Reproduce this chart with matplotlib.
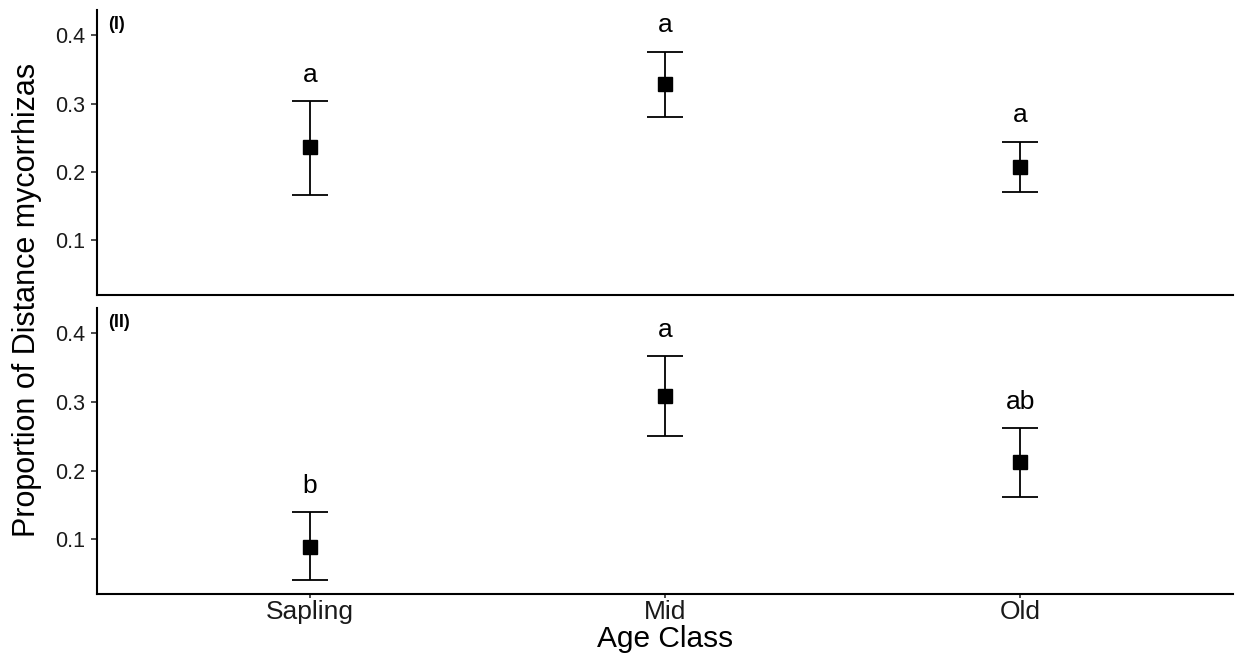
import matplotlib
matplotlib.use('Agg')
from matplotlib import pyplot as plt

plt.rcParams['font.family'] = ['Liberation Sans', 'DejaVu Sans']

age_classes = ['Sapling', 'Mid', 'Old']

# panel (I)
mean_1 = [0.236, 0.329, 0.207]
upper_1 = [0.3036, 0.376, 0.244]
lower_1 = [0.167, 0.281, 0.170]
letters_1 = ['a', 'a', 'a']

# panel (II)
mean_2 = [0.089, 0.309, 0.2125]
upper_2 = [0.139, 0.367, 0.262]
lower_2 = [0.041, 0.250, 0.162]
letters_2 = ['b', 'a', 'ab']

panel_tags = ['(I)', '(II)']

fig = plt.figure(figsize=(12.35, 6.59), dpi=100)
ax1 = fig.add_axes([0.0785, 0.5524, 0.92, 0.4324])
ax2 = fig.add_axes([0.0785, 0.0986, 0.92, 0.4340])

x = list(range(1, len(age_classes) + 1))
txt_col = '#1a1a1a'

for ax, mean, up, lo, letters, tag in [(ax1, mean_1, upper_1, lower_1, letters_1, panel_tags[0]),
                                       (ax2, mean_2, upper_2, lower_2, letters_2, panel_tags[1])]:
    yerr = [[m - l for m, l in zip(mean, lo)], [u - m for m, u in zip(mean, up)]]
    ax.errorbar(x, mean, yerr=yerr, fmt='s', color='black', ms=9.5, elinewidth=1.3,
                capsize=13, capthick=1.3)
    for xi, u, lab in zip(x, up, letters):
        ax.annotate(lab, (xi, u), xytext=(0, 14), textcoords='offset points',
                    ha='center', va='baseline', fontsize=19)
    ax.text(0.01, 0.98, tag, transform=ax.transAxes, ha='left', va='top',
            fontsize=13, fontweight='bold')
    ax.set_xlim(0.4, 3.6)
    ax.set_ylim(0.02, 0.437)
    ax.set_yticks([0.1, 0.2, 0.3, 0.4])
    ax.set_yticklabels(['0.1', '0.2', '0.3', '0.4'])
    for side in ['top', 'right']:
        ax.spines[side].set_visible(False)
    for side in ['left', 'bottom']:
        ax.spines[side].set_linewidth(1.5)
        ax.spines[side].set_color('black')
    ax.tick_params(axis='y', labelsize=15.5, length=4, width=1.1, colors=txt_col,
                   labelcolor=txt_col, pad=4.5)

ax1.set_xticks([])
ax2.set_xticks(x)
ax2.set_xticklabels(age_classes)
ax2.tick_params(axis='x', labelsize=19, length=3, width=1.1, colors=txt_col, pad=1)
ax2.set_xlabel('Age Class', fontsize=21.5, labelpad=1)

fig.text(0.022, 0.545, 'Proportion of Distance mycorrhizas', rotation=90,
         ha='center', va='center', fontsize=22)

fig.savefig('out.png', dpi=100)
